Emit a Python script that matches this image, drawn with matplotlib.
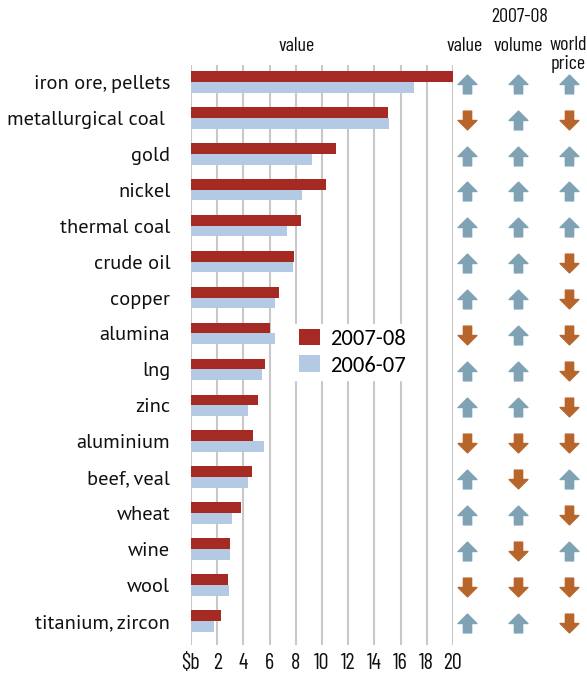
import numpy as np
import matplotlib.pyplot as plt
from matplotlib.path import Path

# data
products = ['iron ore, pellets', 'metallurgical coal ', 'gold', 'nickel', 'thermal coal',
            'crude oil', 'copper', 'alumina', 'lng', 'zinc', 'aluminium', 'beef, veal',
            'wheat', 'wine', 'wool', 'titanium, zircon']
value_0708 = [20.0, 15.0, 11.1, 10.3, 8.4, 7.9, 6.7, 6.0, 5.65, 5.1, 4.7, 4.65, 3.8, 3.0, 2.8, 2.3]
value_0607 = [17.0, 15.1, 9.2, 8.5, 7.3, 7.8, 6.4, 6.4, 5.4, 4.35, 5.6, 4.35, 3.1, 3.0, 2.9, 1.75]
# change in 2007-08: 1 = up, -1 = down
chg_value = [1, -1, 1, 1, 1, 1, 1, -1, 1, 1, -1, 1, 1, 1, -1, 1]
chg_volume = [1, 1, 1, 1, 1, 1, 1, 1, 1, 1, -1, -1, 1, -1, -1, 1]
chg_price = [1, -1, 1, 1, 1, -1, -1, -1, -1, -1, -1, 1, -1, 1, -1, -1]
xticks = list(range(0, 21, 2))
xticklabels = ['$b'] + [str(t) for t in xticks[1:]]

red = '#a52a24'
lightblue = '#b4c9e3'
up_col = '#7fa2b4'
down_col = '#b8652b'
grid_col = '#c8c8c8'

narrow = ['Barlow Condensed', 'Fira Sans Extra Condensed', 'DejaVu Sans']
label_font = ['PT Sans', 'Open Sans', 'DejaVu Sans']
legend_font = ['Carlito', 'Lato', 'DejaVu Sans']

W, H = 587, 674
fig = plt.figure(figsize=(W / 100, H / 100), dpi=100)
ax = fig.add_axes([191 / W, 29 / H, 262 / W, 580 / H])

y = np.arange(len(products))
h = 0.3
ax.barh(y - h / 2, value_0708, height=h, color=red, label='2007-08', zorder=3)
ax.barh(y + h / 2, value_0607, height=h, color=lightblue, label='2006-07', zorder=3)

ax.set_xlim(0, 20)
ax.set_ylim(len(products) - 1 + 0.67, -0.47)
ax.set_xticks(xticks)
ax.set_xticklabels(xticklabels, fontfamily=narrow, fontsize=16)
ax.set_yticks(y)
ax.set_yticklabels(products, fontfamily=label_font, fontsize=14.7)
ax.tick_params(axis='both', length=0, colors='#111111')
ax.tick_params(axis='x', pad=6)
ax.tick_params(axis='y', pad=15)
for s in ax.spines.values():
    s.set_visible(False)
for t in xticks:
    ax.axvline(t, color=grid_col, lw=1.5, zorder=1)

leg = ax.legend(loc='center', bbox_to_anchor=(0.615, 0.505), frameon=True,
                prop={'family': legend_font, 'size': 16.2}, handlelength=0.95,
                handleheight=0.75, handletextpad=0.45, labelspacing=0.3,
                borderpad=0.2, fancybox=False)
leg.get_frame().set_edgecolor('white')
leg.get_frame().set_facecolor('white')
leg.get_frame().set_alpha(1)
leg.set_zorder(5)

# arrows
verts_up = [(-0.5, 0.0), (0.0, 0.5), (0.5, 0.0), (0.22, 0.0), (0.22, -0.5),
            (-0.22, -0.5), (-0.22, 0.0), (-0.5, 0.0)]
codes = [Path.MOVETO] + [Path.LINETO] * 6 + [Path.CLOSEPOLY]
up_marker = Path(verts_up, codes)
down_marker = Path([(vx, -vy) for vx, vy in verts_up], codes)

trans = ax.get_yaxis_transform()
col_x = [(467 - 191) / 262, (518 - 191) / 262, (569 - 191) / 262]
for cx, changes in zip(col_x, [chg_value, chg_volume, chg_price]):
    for yi, c in zip(y, changes):
        ax.plot(cx, yi + 0.05, marker=up_marker if c > 0 else down_marker, markersize=13.5,
                color=up_col if c > 0 else down_col, transform=trans, clip_on=False,
                linestyle='none')

# headers
def fig_text(px, py, s):
    fig.text(px / W, 1 - py / H, s, ha='center', va='center', fontfamily=narrow,
             fontsize=14.5, color='#111111')

fig_text(297, 46, 'value')
fig_text(520, 17, '2007-08')
fig_text(465, 46, 'value')
fig_text(518, 46, 'volume')
fig_text(568, 45, 'world')
fig_text(568, 64, 'price')

fig.savefig('out.png', dpi=100)
